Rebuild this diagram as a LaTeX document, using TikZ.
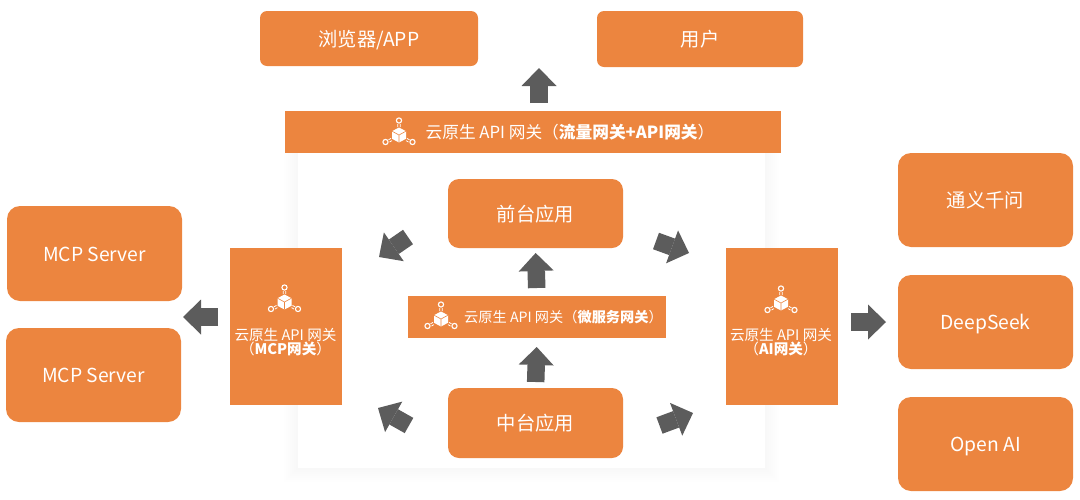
\documentclass[tikz,border=0pt]{standalone}
\usepackage{fontspec}
\setmainfont{Noto Sans CJK SC}
\usetikzlibrary{arrows.meta}
\definecolor{orangebox}{HTML}{EC853F}
\definecolor{arrowgray}{HTML}{5C5C5C}
\tikzset{
  x=1pt,y=-1pt,
  card/.style={fill=orangebox,rounded corners=#1,inner sep=0pt,outer sep=0pt,text=white,font=\fontsize{19.3}{22}\selectfont,align=center,text height=16.4pt,text depth=1pt},
  card/.default=13pt,
  band/.style={fill=orangebox,inner sep=0pt,outer sep=0pt},
  bandtext/.style={text=white,inner sep=0pt,font=\fontsize{#1}{#1}\selectfont,align=center},
  bandtext/.default=14.6,
  bigarrow/.style={draw=arrowgray,line width=17.5pt,-{Triangle[length=18pt,width=35pt,line width=0pt]}},
  pics/gwicon/.style={code={
    \draw[white,line width=1.1pt] (0,-14.5) circle (2.6) (-13.5,7) circle (2.6) (13.5,7) circle (2.6);
    \draw[white,line width=.8pt] (-1.3,-11) -- (-1.3,-8) (1.3,-11) -- (1.3,-8)
      (-10.5,4.8) -- (-8,3.4) (-9.5,7) -- (-7,5.6) (10.5,4.8) -- (8,3.4) (9.5,7) -- (7,5.6);
    \fill[white] (0,-7.5) -- (7,-3.8) -- (7,3.8) -- (0,7.5) -- (-7,3.8) -- (-7,-3.8) -- cycle;
    \draw[orangebox,line width=.6pt] (-7,-3.8) -- (0,0) -- (7,-3.8) (0,0) -- (0,7.5);
  }}
}
\begin{document}
\begin{tikzpicture}
\useasboundingbox (0,0) rectangle (1080,499);
% panel with soft shadow
\foreach \s in {14,12,10,8,6,4,2}{
  \fill[black,opacity=.005] (298-\s,153) rectangle (765+\s,468+\s);
}
\fill[white] (298,153) rectangle (765,468);

% top boxes
\node[card=7pt,minimum width=218pt,minimum height=55pt] (browser) at (369,38.5) {浏览器/APP};
\node[card=7pt,minimum width=206pt,minimum height=56pt] (user) at (700,39) {用户};

% left boxes
\node[card,minimum width=175pt,minimum height=95pt] (mcpa) at (94.5,253.5) {MCP Server};
\node[card,minimum width=175pt,minimum height=94pt] (mcpb) at (93.5,375) {MCP Server};

% right boxes
\node[card,minimum width=175pt,minimum height=94pt] (tongyi) at (985.5,200) {通义千问};
\node[card,minimum width=175pt,minimum height=94pt] (deepseek) at (985.5,322) {DeepSeek};
\node[card,minimum width=175pt,minimum height=94pt] (openai) at (985.5,444) {Open AI};

% applications
\node[card=11pt,minimum width=175pt,minimum height=69pt] (front) at (535.5,213.5) {前台应用};
\node[card=11pt,minimum width=175pt,minimum height=70pt] (middle) at (535.5,423) {中台应用};

% gateways
\node[band,minimum width=496pt,minimum height=42pt] (gwtop) at (533,132) {};
\node[band,minimum width=258pt,minimum height=42pt] (gwmicro) at (537,317) {};
\node[band,minimum width=112pt,minimum height=157pt] (gwmcp) at (286,326.5) {};
\node[band,minimum width=112pt,minimum height=157pt] (gwai) at (782,326.5) {};

\pic at (399,135) {gwicon};
\pic at (441,319) {gwicon};
\pic at (284.5,302) {gwicon};
\pic at (781,303) {gwicon};

\node[bandtext=16.7] (ltop) at (570,132) {云原生 API 网关（\textbf{流量网关+API网关}）};
\node[bandtext=14.2] (lmicro) at (563.5,317) {云原生 API 网关（\textbf{微服务网关}）};
\node[bandtext] (lmcp) at (285.5,342) {云原生 API 网关\\（\textbf{MCP网关}）};
\node[bandtext] (lai) at (781,342) {云原生 API 网关\\（\textbf{AI网关}）};

% arrows
\coordinate (toptail) at (539,103);
\coordinate (toptip) at (539,68);
\draw[bigarrow] (toptail) -- (toptip);
\draw[bigarrow,shorten <=8pt,shorten >=5pt] (gwmicro.north) -- (front.south);
\draw[bigarrow,shorten <=6pt,shorten >=9pt] (middle.north) -- (gwmicro.south);

\coordinate (lefttail) at (218,317);
\coordinate (lefttip) at (183,317);
\draw[bigarrow] (lefttail) -- (lefttip);
\coordinate (righttail) at (851,322);
\coordinate (righttip) at (886,322);
\draw[bigarrow] (righttail) -- (righttip);

\coordinate (ultail) at (408,237);
\coordinate (ultip) at (379,257);
\draw[bigarrow] (ultail) -- (ultip);
\coordinate (lltail) at (409,425.5);
\coordinate (lltip) at (378,408);
\draw[bigarrow] (lltail) -- (lltip);
\coordinate (urtail) at (656,241);
\coordinate (urtip) at (689,253);
\draw[bigarrow] (urtail) -- (urtip);
\coordinate (lrtail) at (659.5,425.5);
\coordinate (lrtip) at (693,413);
\draw[bigarrow] (lrtail) -- (lrtip);
\end{tikzpicture}
\end{document}
